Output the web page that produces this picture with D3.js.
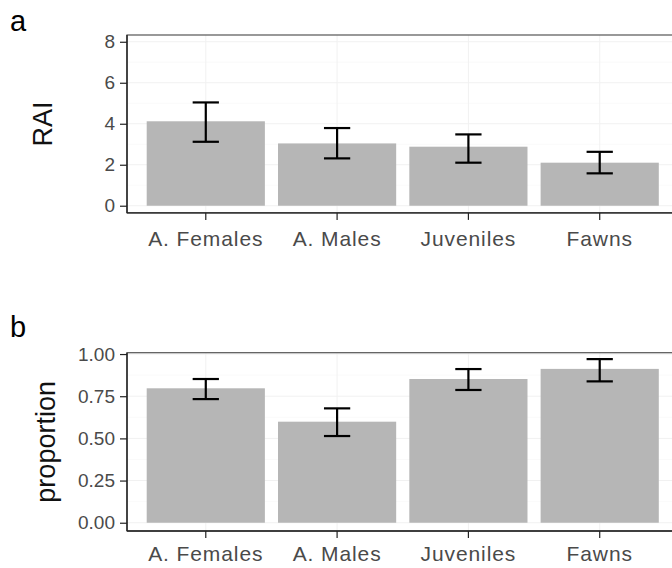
<!DOCTYPE html>
<html>
<head>
<meta charset="utf-8">
<script src="https://cdn.jsdelivr.net/npm/d3@7/dist/d3.min.js"></script>
<style>
  html, body { margin: 0; padding: 0; background: #fff; }
  svg { display: block; }
  text { font-family: "Liberation Sans", Arial, sans-serif; }
</style>
</head>
<body>
<svg id="chart" width="672" height="568"></svg>
<script>
// Age/sex classes shown on both panels
const categories = ["A. Females", "A. Males", "Juveniles", "Fawns"];

// Panel a: relative abundance index with confidence limits
const raiValues = [4.12, 3.04, 2.88, 2.10];
const raiLower  = [3.12, 2.31, 2.10, 1.58];
const raiUpper  = [5.04, 3.79, 3.48, 2.63];
const raiTicks  = [0, 2, 4, 6, 8];

// Panel b: proportion with confidence limits
const propValues = [0.797, 0.599, 0.852, 0.912];
const propLower  = [0.733, 0.514, 0.787, 0.838];
const propUpper  = [0.852, 0.678, 0.911, 0.970];
const propTicks  = [0, 0.25, 0.5, 0.75, 1];

const svg = d3.select("#chart");

const panelLeft = 127, panelRight = 678.5;
const barFill = "#b6b6b6";
const textGrey = "#4a4a4a";

function drawPanel(cfg) {
  const g = svg.append("g");
  const rows = categories.map((c, i) => ({
    cat: c, v: cfg.values[i], lo: cfg.lower[i], hi: cfg.upper[i]
  }));

  const x = d3.scaleBand()
    .domain(categories)
    .range([panelLeft, panelRight])
    .paddingInner(0.1)
    .paddingOuter(0.15);

  const y = d3.scaleLinear()
    .domain(cfg.domain)
    .range([cfg.bottom, cfg.top]);

  // faint grid (major + minor)
  const minor = d3.range(cfg.ticks.length - 1)
    .map(i => (cfg.ticks[i] + cfg.ticks[i + 1]) / 2);
  g.append("g").selectAll("line.minor").data(minor).join("line")
    .attr("x1", panelLeft).attr("x2", panelRight)
    .attr("y1", d => y(d)).attr("y2", d => y(d))
    .attr("stroke", "#f6f6f6").attr("stroke-width", 0.6);
  g.append("g").selectAll("line.major").data(cfg.ticks).join("line")
    .attr("x1", panelLeft).attr("x2", panelRight)
    .attr("y1", d => y(d)).attr("y2", d => y(d))
    .attr("stroke", "#f1f1f1").attr("stroke-width", 1);
  g.append("g").selectAll("line.vgrid").data(categories).join("line")
    .attr("x1", d => x(d) + x.bandwidth() / 2).attr("x2", d => x(d) + x.bandwidth() / 2)
    .attr("y1", cfg.top).attr("y2", cfg.bottom)
    .attr("stroke", "#f1f1f1").attr("stroke-width", 1);

  // bars
  g.append("g").selectAll("rect").data(rows).join("rect")
    .attr("x", d => x(d.cat))
    .attr("width", x.bandwidth())
    .attr("y", d => y(d.v))
    .attr("height", d => y(0) - y(d.v))
    .attr("fill", barFill);

  // error bars
  const capHalf = x.step() * 0.1;
  const eb = g.append("g").attr("stroke", "#000").attr("stroke-width", 2.2).attr("fill", "none");
  rows.forEach(d => {
    const cx = x(d.cat) + x.bandwidth() / 2;
    eb.append("line").attr("x1", cx).attr("x2", cx).attr("y1", y(d.lo)).attr("y2", y(d.hi));
    eb.append("line").attr("x1", cx - capHalf).attr("x2", cx + capHalf).attr("y1", y(d.hi)).attr("y2", y(d.hi));
    eb.append("line").attr("x1", cx - capHalf).attr("x2", cx + capHalf).attr("y1", y(d.lo)).attr("y2", y(d.lo));
  });

  // panel border
  g.append("rect")
    .attr("x", panelLeft).attr("y", cfg.top)
    .attr("width", panelRight - panelLeft).attr("height", cfg.bottom - cfg.top)
    .attr("fill", "none").attr("stroke", "#555").attr("stroke-width", 1.2);

  // y axis
  const yAxis = g.append("g")
    .attr("transform", `translate(${panelLeft},0)`)
    .call(d3.axisLeft(y).tickValues(cfg.ticks).tickFormat(cfg.fmt).tickSize(7).tickPadding(5));
  yAxis.select(".domain").attr("stroke", "#222").attr("stroke-width", 1.4)
    .attr("d", `M0,${cfg.top}V${cfg.bottom}`);
  yAxis.selectAll(".tick line").attr("stroke", "#222").attr("stroke-width", 1.2);
  yAxis.selectAll(".tick text")
    .attr("fill", textGrey)
    .style("font-size", "19px")
    .style("font-family", "'Liberation Sans', Arial, sans-serif");

  // x axis
  const xAxis = g.append("g")
    .attr("transform", `translate(0,${cfg.bottom})`)
    .call(d3.axisBottom(x).tickSize(7).tickPadding(cfg.xPad));
  xAxis.select(".domain").attr("stroke", "#222").attr("stroke-width", 1.4)
    .attr("d", `M${panelLeft},0H${panelRight}`);
  xAxis.selectAll(".tick line").attr("stroke", "#222").attr("stroke-width", 1.2);
  xAxis.selectAll(".tick text")
    .attr("fill", textGrey)
    .style("font-size", "21px")
    .style("letter-spacing", "0.9px")
    .style("font-family", "'Liberation Sans', Arial, sans-serif");

  // axis title
  g.append("text")
    .attr("transform", `translate(${cfg.titleX},${(cfg.top + cfg.bottom) / 2}) rotate(-90)`)
    .attr("text-anchor", "middle")
    .attr("fill", "#111")
    .style("font-size", "27px")
    .text(cfg.title);

  // panel tag
  g.append("text")
    .attr("x", 10).attr("y", cfg.tagY)
    .attr("fill", "#000")
    .style("font-size", "29px")
    .text(cfg.tag);
}

drawPanel({
  values: raiValues, lower: raiLower, upper: raiUpper,
  ticks: raiTicks, fmt: d3.format("d"),
  domain: [-0.35, 8.33], top: 35, bottom: 212.9,
  title: "RAI", titleX: 52, tag: "a", tagY: 31, xPad: 11
});

drawPanel({
  values: propValues, lower: propLower, upper: propUpper,
  ticks: propTicks, fmt: d3.format(".2f"),
  domain: [-0.049, 1.008], top: 352.7, bottom: 531,
  title: "proportion", titleX: 55, tag: "b", tagY: 337, xPad: 8
});
</script>
</body>
</html>
